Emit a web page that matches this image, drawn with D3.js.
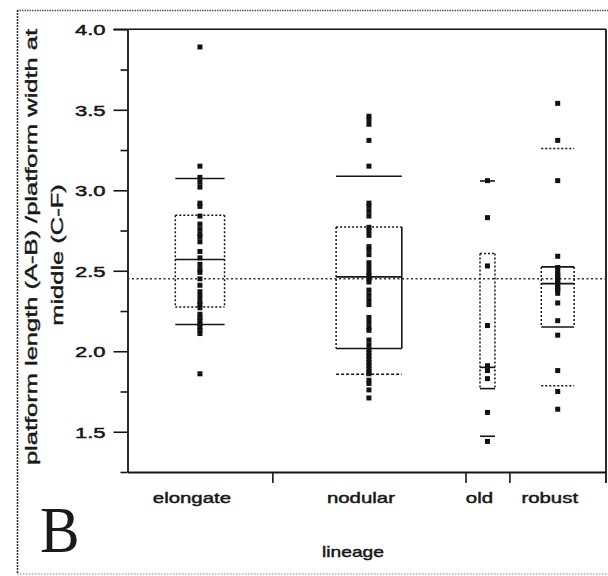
<!DOCTYPE html>
<html>
<head>
<meta charset="utf-8">
<script src="https://cdn.jsdelivr.net/npm/d3@7"></script>
<style>
  html, body { margin: 0; padding: 0; background: #fff; }
  svg { display: block; }
  text { font-family: "Liberation Sans", Arial, sans-serif; fill: #1a1a1a; }
</style>
</head>
<body>
<svg id="chart" width="608" height="576"></svg>
<script>
// ---- data ----
const lineages = ["elongate", "nodular", "old", "robust"];

const elongate = [3.89, 3.15, 3.08, 3.05, 3.02, 2.92, 2.90, 2.84, 2.79, 2.76, 2.73,
  2.71, 2.68, 2.62, 2.58, 2.54, 2.51, 2.49, 2.45, 2.41, 2.37, 2.34, 2.31, 2.29,
  2.27, 2.23, 2.21, 2.19, 2.17, 2.15, 2.13, 2.11, 1.86];
const nodular = [3.46, 3.44, 3.41, 3.31, 3.15, 2.92, 2.90, 2.87, 2.84, 2.77, 2.75,
  2.72, 2.65, 2.63, 2.60, 2.55, 2.52, 2.49, 2.47, 2.45, 2.43, 2.38, 2.35, 2.32,
  2.29, 2.21, 2.18, 2.15, 2.13, 2.07, 2.04, 2.01, 1.99, 1.97, 1.95, 1.93, 1.91,
  1.89, 1.87, 1.86, 1.82, 1.80, 1.76, 1.71];
const old = [3.06, 2.83, 2.53, 2.16, 1.91, 1.89, 1.88, 1.83, 1.62, 1.44];
const robust = [3.54, 3.31, 3.06, 2.59, 2.52, 2.50, 2.48, 2.47, 2.46, 2.44, 2.43,
  2.42, 2.40, 2.39, 2.38, 2.36, 2.30, 2.19, 2.10, 1.88, 1.75, 1.64];

// per-lineage summary lines
const boxLow    = [2.275, 2.017, 1.768, 2.151];
const boxHigh   = [2.845, 2.772, 2.607, 2.524];
const midLine   = [2.57, 2.462, 1.90, 2.42];
const upperLine = [3.073, 3.087, 3.058, 3.259];
const lowerLine = [2.166, 1.857, 1.472, 1.785];
const grandMean = 2.45;

const yTicks = [1.5, 2.0, 2.5, 3.0, 3.5, 4.0];
const yMinorTicks = [1.25, 1.75, 2.25, 2.75, 3.25, 3.75];
const yTitle = ["platform length (A-B) /platform width at", "middle (C-F)"];
const xTitle = "lineage";
const panelLetter = "B";

// ---- styling of each summary edge (dot = dotted, solid) ----
const edgeStyle = {
  elongate: { top: "dot", bottom: "dot", left: "dot", right: "dot", upper: "solid", lower: "solid" },
  nodular:  { top: "dot", bottom: "solid", left: "dot", right: "solid", upper: "solid", lower: "dash" },
  old:      { top: "dot", bottom: "solid", left: "dot", right: "dot", upper: "solid", lower: "solid" },
  robust:   { top: "solid", bottom: "solid", left: "dot", right: "dot", upper: "dot", lower: "dot" }
};
const dashFor = { dot: "2,2", dash: "3,2", solid: null };

const groups = [elongate, nodular, old, robust];
const ink = "#141414";

const svg = d3.select("#chart");
svg.append("rect").attr("width", 608).attr("height", 576).attr("fill", "#fff");

// outer frame of the panel
const frame = svg.append("g").attr("stroke", "#555").attr("fill", "none");
frame.append("line").attr("x1", 17).attr("x2", 608).attr("y1", 10.5).attr("y2", 10.5)
  .attr("stroke-width", 1.3).attr("stroke-dasharray", "1.5,1");
frame.append("line").attr("x1", 17).attr("x2", 608).attr("y1", 574).attr("y2", 574)
  .attr("stroke-width", 1.2).attr("stroke-dasharray", "1.5,1.5").attr("stroke", "#888");
frame.append("line").attr("x1", 17.5).attr("x2", 17.5).attr("y1", 10).attr("y2", 574)
  .attr("stroke-width", 1.6).attr("stroke-dasharray", "2,1").attr("stroke", "#333");

// ---- scales ----
const y = d3.scaleLinear().domain([1.25, 4.0]).range([472, 29.3]);
const cum = [0];
groups.forEach(g => cum.push(cum[cum.length - 1] + g.length));
const x = d3.scaleLinear().domain([0, cum[cum.length - 1]]).range([127.5, 606]);

const plotLeft = x.range()[0], plotRight = x.range()[1];

// plot top border
svg.append("line").attr("x1", plotLeft - 14).attr("x2", plotRight)
  .attr("y1", y(4.0)).attr("y2", y(4.0)).attr("stroke", ink).attr("stroke-width", 1.6);
// right border, running down as the last category tick
svg.append("line").attr("x1", plotRight).attr("x2", plotRight)
  .attr("y1", y(4.0)).attr("y2", y(1.25) + 11).attr("stroke", ink).attr("stroke-width", 1.8);

// ---- y axis ----
const yAxis = svg.append("g").attr("transform", `translate(${plotLeft},0)`)
  .call(d3.axisLeft(y).tickValues(yTicks).tickFormat(d3.format(".1f"))
    .tickSize(14).tickSizeOuter(0));
yAxis.select(".domain").attr("stroke", ink).attr("stroke-width", 1.8);
yAxis.selectAll(".tick line").attr("stroke", ink).attr("stroke-width", 1.6);
yAxis.selectAll(".tick text")
  .attr("x", null).attr("dy", "0.36em")
  .attr("transform", "translate(-22,0) scale(1.42,1)")
  .style("font-size", "15.5px").style("font-family", '"Liberation Sans", Arial, sans-serif')
  .attr("fill", ink).attr("stroke", ink).attr("stroke-width", 0.5);

const yMinor = svg.append("g").attr("transform", `translate(${plotLeft},0)`)
  .call(d3.axisLeft(y).tickValues(yMinorTicks).tickFormat("").tickSize(7).tickSizeOuter(0));
yMinor.select(".domain").remove();
yMinor.selectAll(".tick line").attr("stroke", ink).attr("stroke-width", 1.6);

// ---- x axis ----
const xAxis = svg.append("g").attr("transform", `translate(0,${y(1.25)})`)
  .call(d3.axisBottom(x).tickValues(cum.slice(1, -1)).tickFormat("").tickSize(11).tickSizeOuter(0));
xAxis.select(".domain").attr("stroke", ink).attr("stroke-width", 1.8);
xAxis.selectAll(".tick line").attr("stroke", ink).attr("stroke-width", 1.6);

// category labels
lineages.forEach((name, i) => {
  const cx = (x(cum[i]) + x(cum[i + 1])) / 2 - 8;
  svg.append("text")
    .attr("transform", `translate(${cx},502.5) scale(1.36,1)`)
    .attr("text-anchor", "middle")
    .style("font-size", "15px")
    .attr("stroke", ink).attr("stroke-width", 0.45)
    .text(name);
});

// x title
svg.append("text")
  .attr("transform", `translate(353,556.5) scale(1.28,1)`)
  .attr("text-anchor", "middle").style("font-size", "15px")
  .attr("stroke", ink).attr("stroke-width", 0.45)
  .text(xTitle);

// y title (two lines, reading upward)
[[37, 247], [62.5, 255]].forEach(([bx, by], k) => {
  svg.append("text")
    .attr("transform", `translate(${bx},${by}) rotate(-90) scale(1.5,1)`)
    .attr("text-anchor", "middle").style("font-size", "17px")
    .attr("stroke", ink).attr("stroke-width", 0.4)
    .text(yTitle[k]);
});

// panel letter
svg.append("text")
  .attr("transform", "translate(40,552) scale(0.9,1)")
  .style("font-family", '"Liberation Serif", "Times New Roman", serif')
  .style("font-size", "66px")
  .attr("fill", "#111")
  .text(panelLetter);

// ---- grand mean reference line ----
svg.append("line")
  .attr("x1", plotLeft).attr("x2", plotRight)
  .attr("y1", y(grandMean)).attr("y2", y(grandMean))
  .attr("stroke", "#333").attr("stroke-width", 1.4).attr("stroke-dasharray", "2,2.5");

// ---- per-lineage summaries and points ----
const plot = svg.append("g");
lineages.forEach((name, i) => {
  const x0 = x(cum[i]), x1 = x(cum[i + 1]);
  const cx = (x0 + x1) / 2;
  const hw = (x1 - x0) * 0.17;
  const st = edgeStyle[name];
  const seg = (xa, ya, xb, yb, kind) => {
    plot.append("line")
      .attr("x1", xa).attr("y1", ya).attr("x2", xb).attr("y2", yb)
      .attr("stroke", ink)
      .attr("stroke-width", kind === "solid" ? 1.6 : 1.5)
      .attr("stroke-dasharray", dashFor[kind]);
  };
  const yt = y(boxHigh[i]), yb = y(boxLow[i]);
  seg(cx - hw, yt, cx + hw, yt, st.top);
  seg(cx - hw, yb, cx + hw, yb, st.bottom);
  seg(cx - hw, yt, cx - hw, yb, st.left);
  seg(cx + hw, yt, cx + hw, yb, st.right);
  seg(cx - hw, y(midLine[i]), cx + hw, y(midLine[i]), "solid");
  seg(cx - hw, y(upperLine[i]), cx + hw, y(upperLine[i]), st.upper);
  seg(cx - hw, y(lowerLine[i]), cx + hw, y(lowerLine[i]), st.lower);

  plot.selectAll(null).data(groups[i]).enter().append("rect")
    .attr("x", cx - 2.5).attr("y", d => y(d) - 2.5)
    .attr("width", 5).attr("height", 5)
    .attr("fill", "#111");
});
</script>
</body>
</html>
